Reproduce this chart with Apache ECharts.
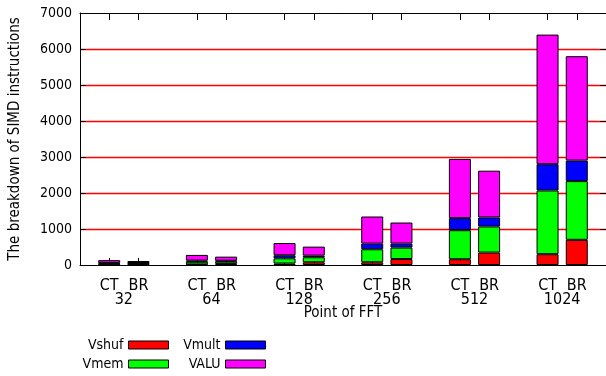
<!DOCTYPE html>
<html>
<head>
<meta charset="utf-8">
<script src="https://cdn.jsdelivr.net/npm/echarts@6/dist/echarts.min.js"></script>
<style>
  html, body { margin: 0; padding: 0; background: #fff; }
  #chart { width: 606px; height: 376px; }
</style>
</head>
<body>
<div id="chart"></div>
<script>
// FFT sizes and the two algorithm variants shown in each group
const groups = ['32', '64', '128', '256', '512', '1024'];
const variants = ['CT', 'BR'];

// Instruction counts per bar, ordered 32-CT, 32-BR, 64-CT, 64-BR, ...
const vshuf = [8, 14, 15, 30, 40, 75, 75, 165, 160, 345, 300, 700];
const vmem  = [37, 31, 75, 65, 145, 140, 362, 318, 807, 725, 1770, 1630];
const vmult = [15, 11, 32, 23, 85, 45, 157, 112, 335, 250, 730, 570];
const valu  = [75, 54, 158, 114, 340, 250, 753, 585, 1645, 1300, 3600, 2900];

const yTicks = [0, 1000, 2000, 3000, 4000, 5000, 6000, 7000];

const FONT = "'DejaVu Sans Condensed', 'Liberation Sans', sans-serif";

// Slot layout along x: a leading spacer, then CT, BR, spacer for every group.
const slots = [''];
const slotOfBar = [];
groups.forEach(() => {
  variants.forEach(v => { slotOfBar.push(slots.length); slots.push(v); });
  slots.push('');
});
// numeric slot coordinates (slot k sits at k - 1 on the helper axes)
const barPos = slotOfBar.map(k => k - 1);
const groupPos = groups.map((g, gi) => (barPos[gi * 2] + barPos[gi * 2 + 1]) / 2);
const groupName = {};
groupPos.forEach((p, gi) => { groupName[p] = groups[gi]; });

// spread bar values over the slots, leaving spacers empty
const toSlots = arr => {
  const out = slots.map(() => '-');
  arr.forEach((v, i) => { out[slotOfBar[i]] = v; });
  return out;
};

const seriesDefs = [
  { name: 'Vshuf', data: vshuf, color: '#ff0000' },
  { name: 'Vmem',  data: vmem,  color: '#00ff00' },
  { name: 'Vmult', data: vmult, color: '#0000ff' },
  { name: 'VALU',  data: valu,  color: '#ff00ff' }
];

const chart = echarts.init(document.getElementById('chart'), null, { renderer: 'canvas' });

const textStyle = { fontFamily: FONT, fontSize: 14, color: '#000' };
const legendCommon = {
  orient: 'vertical',
  align: 'right',
  itemWidth: 40,
  itemHeight: 8,
  itemGap: 5,
  padding: 0,
  top: 338,
  icon: 'rect',
  selectedMode: false,
  textStyle: textStyle,
  itemStyle: { borderColor: '#000', borderWidth: 1 }
};

const noSplit = { show: false };
const isBarSlot = (i, v) => v !== '';

chart.setOption({
  animation: false,
  textStyle: { fontFamily: FONT },
  grid: { left: 80, top: 13, width: 530, height: 252 },
  legend: [
    Object.assign({}, legendCommon, { data: ['Vshuf', 'Vmem'], right: 606 - 169 }),
    Object.assign({}, legendCommon, { data: ['Vmult', 'VALU'], right: 606 - 266 })
  ],
  xAxis: [
    {
      type: 'category', position: 'bottom', data: slots, boundaryGap: false,
      axisLine: { show: true, onZero: false, lineStyle: { color: '#000', width: 1 } },
      axisTick: { show: true, inside: true, length: 7, interval: isBarSlot, lineStyle: { color: '#000' } },
      axisLabel: {
        show: true, interval: isBarSlot, margin: 13,
        fontFamily: FONT, fontSize: 16, color: '#000'
      },
      splitLine: noSplit,
      name: 'Point of FFT', nameLocation: 'middle', nameGap: 41,
      nameTextStyle: { fontFamily: FONT, fontSize: 15, color: '#000' }
    },
    {
      type: 'value', position: 'bottom', min: -1, max: 17,
      axisLine: { show: false },
      axisTick: { show: false },
      axisLabel: {
        show: true, customValues: groupPos, margin: 27,
        formatter: v => groupName[v] || '',
        fontFamily: FONT, fontSize: 16, color: '#000'
      },
      splitLine: noSplit
    },
    {
      type: 'value', position: 'top', min: -1, max: 17,
      axisLine: { show: true, onZero: false, lineStyle: { color: '#000', width: 1 } },
      axisTick: { show: true, inside: true, length: 7, customValues: barPos, lineStyle: { color: '#000' } },
      axisLabel: { show: false },
      splitLine: noSplit
    }
  ],
  yAxis: [
    {
      type: 'value', position: 'left', min: 0, max: 7000, interval: 1000,
      axisLine: { show: true, onZero: false, lineStyle: { color: '#000', width: 1 } },
      axisTick: { show: true, inside: true, length: 6, lineStyle: { color: '#000' } },
      axisLabel: {
        margin: 8, fontFamily: FONT, fontSize: 14, color: '#000',
        formatter: v => (yTicks.indexOf(v) >= 0 ? String(v) : '')
      },
      splitLine: {
        show: true, showMinLine: false, showMaxLine: false,
        lineStyle: { color: '#ff0000', width: 1.4 }
      },
      name: 'The breakdown of SIMD instructions', nameLocation: 'middle', nameGap: 57,
      nameTextStyle: { fontFamily: FONT, fontSize: 15, color: '#000' }
    },
    {
      type: 'value', position: 'right', min: 0, max: 7000, interval: 1000,
      axisLine: { show: true, onZero: false, lineStyle: { color: '#000', width: 1 } },
      axisTick: { show: true, inside: true, length: 6, lineStyle: { color: '#000' } },
      axisLabel: { show: false },
      splitLine: noSplit
    }
  ],
  series: seriesDefs.map(s => ({
    name: s.name,
    type: 'bar',
    stack: 'total',
    xAxisIndex: 0,
    yAxisIndex: 0,
    barWidth: 22,
    data: toSlots(s.data),
    itemStyle: { color: s.color, borderColor: '#000', borderWidth: 1 },
    emphasis: { disabled: true }
  }))
});
</script>
</body>
</html>
